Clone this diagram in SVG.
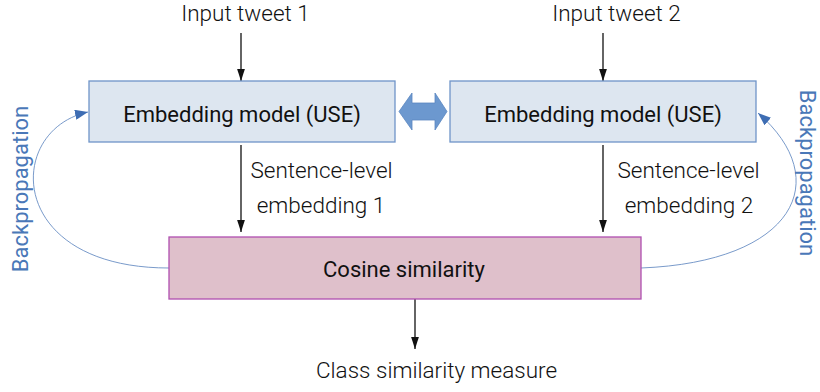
<svg xmlns="http://www.w3.org/2000/svg" width="820" height="392" viewBox="0 0 820 392">
<defs>
<style>
.lbl{font-family:Roboto,"Liberation Sans",sans-serif;font-size:22.5px;font-weight:300;fill:#111;text-anchor:middle}
.box{font-family:Roboto,"Liberation Sans",sans-serif;font-size:22px;font-weight:400;fill:#111;text-anchor:middle}
.bp{font-family:Roboto,"Liberation Sans",sans-serif;font-size:22px;font-weight:400;fill:#4a78b8;text-anchor:middle}
.emb{fill:#dde6f0;stroke:#6f94c8;stroke-width:1.3}
.cos{fill:#dfc0cb;stroke:#b04fb0;stroke-width:1.3}
.ar{stroke:#111;stroke-width:1.3;fill:none;marker-end:url(#blk)}
.bpc{stroke:#6a8fc4;stroke-width:0.9;fill:none;marker-end:url(#blu)}
</style>
<marker id="blk" markerUnits="userSpaceOnUse" markerWidth="12" markerHeight="18" refX="17" refY="5.5" orient="auto" viewBox="0 0 17 11">
<path d="M0,0 L17,5.5 L0,11 Z" fill="#111"/>
</marker>
<marker id="blu" markerUnits="userSpaceOnUse" markerWidth="13" markerHeight="10" refX="13" refY="5" orient="auto" viewBox="0 0 13 10">
<path d="M0,0 L13,5 L0,10 Z" fill="#3e6db3"/>
</marker>
</defs>
<g id="connectors">
<line class="ar" x1="241" y1="33" x2="241" y2="81"/>
<line class="ar" x1="603" y1="33" x2="603" y2="81"/>
<line class="ar" x1="241" y1="145" x2="241" y2="232"/>
<line class="ar" x1="603" y1="145" x2="603" y2="232"/>
<line class="ar" x1="415" y1="299" x2="415" y2="349"/>
<path class="bpc" d="M169,268 C5,268 5,130 88,112"/>
<path class="bpc" d="M641,268 C795,262 835,180 758,113"/>
<path d="M399,111.5 L412,93 L412,103 L435,103 L435,93 L447,111.5 L435,130 L435,120 L412,120 L412,130 Z" fill="#6c98cf" stroke="#5b87c0" stroke-width="0.8"/>
</g>
<g id="input1"><text class="lbl" x="245.5" y="21">Input tweet 1</text></g>
<g id="input2"><text class="lbl" x="616.5" y="21">Input tweet 2</text></g>
<g id="embed1"><rect class="emb" x="89" y="81" width="306" height="61"/><text class="box" x="242" y="122">Embedding model (USE)</text></g>
<g id="embed2"><rect class="emb" x="450" y="81" width="306" height="61"/><text class="box" x="603" y="122">Embedding model (USE)</text></g>
<g id="emb1label"><text class="lbl" x="321.5" y="178">Sentence-level</text><text class="lbl" x="321" y="213">embedding 1</text></g>
<g id="emb2label"><text class="lbl" x="688.5" y="178">Sentence-level</text><text class="lbl" x="689" y="213">embedding 2</text></g>
<g id="cosine"><rect class="cos" x="169" y="237" width="472" height="62"/><text class="box" x="404" y="277">Cosine similarity</text></g>
<g id="output"><text class="lbl" x="436.5" y="378">Class similarity measure</text></g>
<g id="bp1"><text class="bp" transform="translate(28,189) rotate(-90)">Backpropagation</text></g>
<g id="bp2"><text class="bp" transform="translate(800,173) rotate(90)">Backpropagation</text></g>
</svg>
